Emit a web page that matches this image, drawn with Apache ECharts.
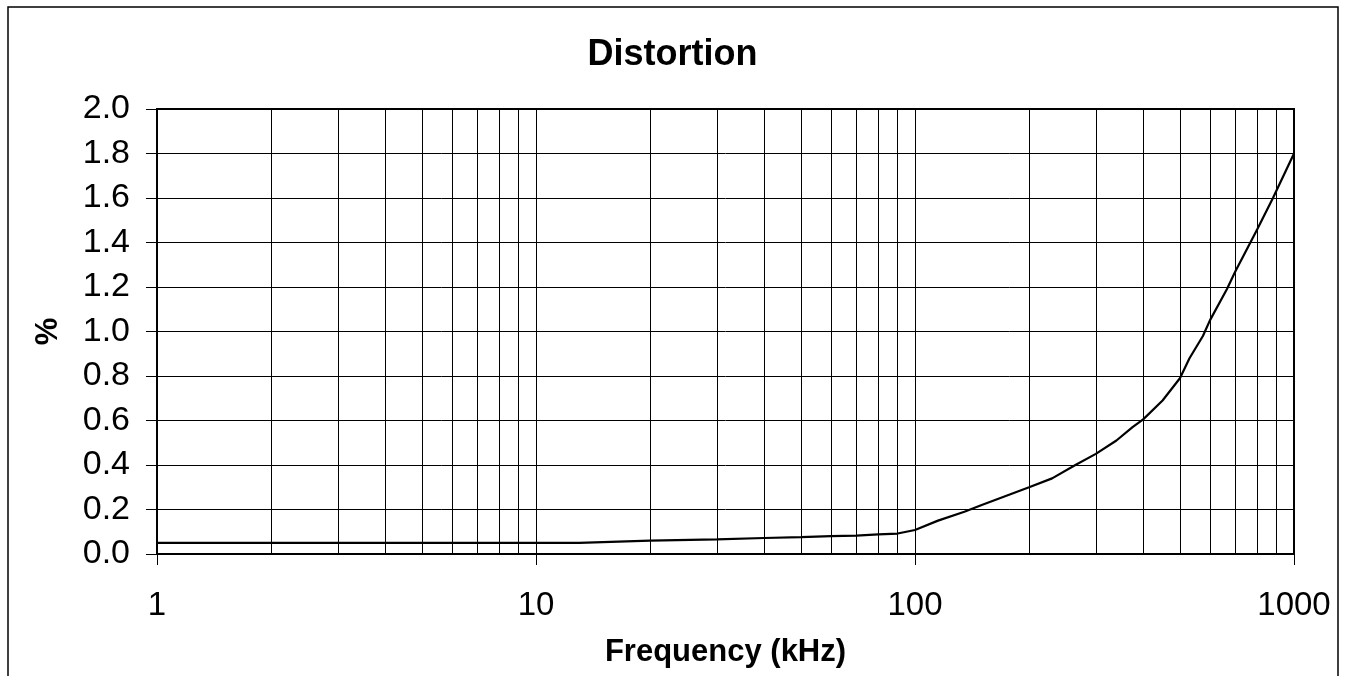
<!DOCTYPE html>
<html>
<head>
<meta charset="utf-8">
<script src="https://cdn.jsdelivr.net/npm/echarts@6/dist/echarts.min.js"></script>
<style>
html,body{margin:0;padding:0;background:#fff;}
#c{width:1345px;height:676px;}
</style>
</head>
<body>
<div id="c"></div>
<script>
// Data
var frequencyKHz = [1, 2, 5, 10, 13, 20, 30, 40, 50, 60, 70, 80, 90, 100, 115, 135, 150, 200, 230, 265, 300, 340, 375, 400, 450, 500, 530, 575, 600, 665, 700, 800, 880, 1000];
var distortionPct = [0.05, 0.05, 0.05, 0.05, 0.05, 0.06, 0.066, 0.072, 0.076, 0.08, 0.083, 0.088, 0.092, 0.108, 0.15, 0.19, 0.22, 0.30, 0.34, 0.40, 0.45, 0.51, 0.57, 0.605, 0.69, 0.79, 0.88, 0.98, 1.05, 1.19, 1.27, 1.46, 1.60, 1.80];
var minorGridFreqs = [2,3,4,5,6,7,8,9,20,30,40,50,60,70,80,90,200,300,400,500,600,700,800,900];
var titleText = 'Distortion';
var xAxisName = 'Frequency (kHz)';
var yAxisName = '%';

var FONT = 'Liberation Sans, Arial, sans-serif';
var chart = echarts.init(document.getElementById('c'));
var seriesData = frequencyKHz.map(function (f, i) { return [f, distortionPct[i]]; });

chart.setOption({
  animation: false,
  backgroundColor: '#fff',
  graphic: [{
    type: 'rect',
    shape: { x: 8, y: 7, width: 1330, height: 720 },
    style: { fill: 'none', stroke: '#000', lineWidth: 1.5 },
    silent: true
  }],
  title: {
    text: titleText,
    left: 'center',
    top: 32,
    textStyle: { fontFamily: FONT, fontSize: 36, fontWeight: 'bold', color: '#000' }
  },
  grid: {
    left: 157, top: 109, right: 51, bottom: 122,
    show: true, borderColor: '#000', borderWidth: 2, backgroundColor: 'transparent'
  },
  xAxis: {
    type: 'log',
    logBase: 10,
    min: 1, max: 1000,
    name: xAxisName,
    nameLocation: 'middle',
    nameGap: 83,
    nameTextStyle: { fontFamily: FONT, fontSize: 31, fontWeight: 'bold', color: '#000' },
    axisLine: { show: true, lineStyle: { color: '#000', width: 2 } },
    axisTick: { show: true, inside: false, length: 11, lineStyle: { color: '#000', width: 1 } },
    axisLabel: { fontFamily: FONT, fontSize: 33, color: '#000', margin: 35,
      formatter: function (v) { return String(Math.round(v)); } },
    splitLine: { show: true, lineStyle: { color: '#000', width: 1 } },
    minorTick: { show: false },
    minorSplitLine: { show: false }
  },
  yAxis: {
    type: 'value',
    min: 0, max: 2.0, interval: 0.2,
    name: yAxisName,
    nameLocation: 'middle',
    nameRotate: 90,
    nameGap: 93,
    nameTextStyle: { fontFamily: FONT, fontSize: 31, fontWeight: 'bold', color: '#000' },
    axisLine: { show: true, lineStyle: { color: '#000', width: 2 } },
    axisTick: { show: true, inside: false, length: 11, lineStyle: { color: '#000', width: 1 } },
    axisLabel: { fontFamily: FONT, fontSize: 34, color: '#000', margin: 27,
      formatter: function (v) { return v.toFixed(1); } },
    splitLine: { show: true, lineStyle: { color: '#000', width: 1 } }
  },
  series: [{
    type: 'line',
    data: seriesData,
    showSymbol: false,
    symbol: 'none',
    smooth: false,
    lineStyle: { color: '#000', width: 2.2 },
    z: 5,
    markLine: {
      silent: true,
      symbol: ['none', 'none'],
      label: { show: false },
      lineStyle: { color: '#000', width: 1, type: 'solid' },
      animation: false,
      z: 1,
      data: minorGridFreqs.map(function (f) { return { xAxis: f }; })
    }
  }]
});
</script>
</body>
</html>
